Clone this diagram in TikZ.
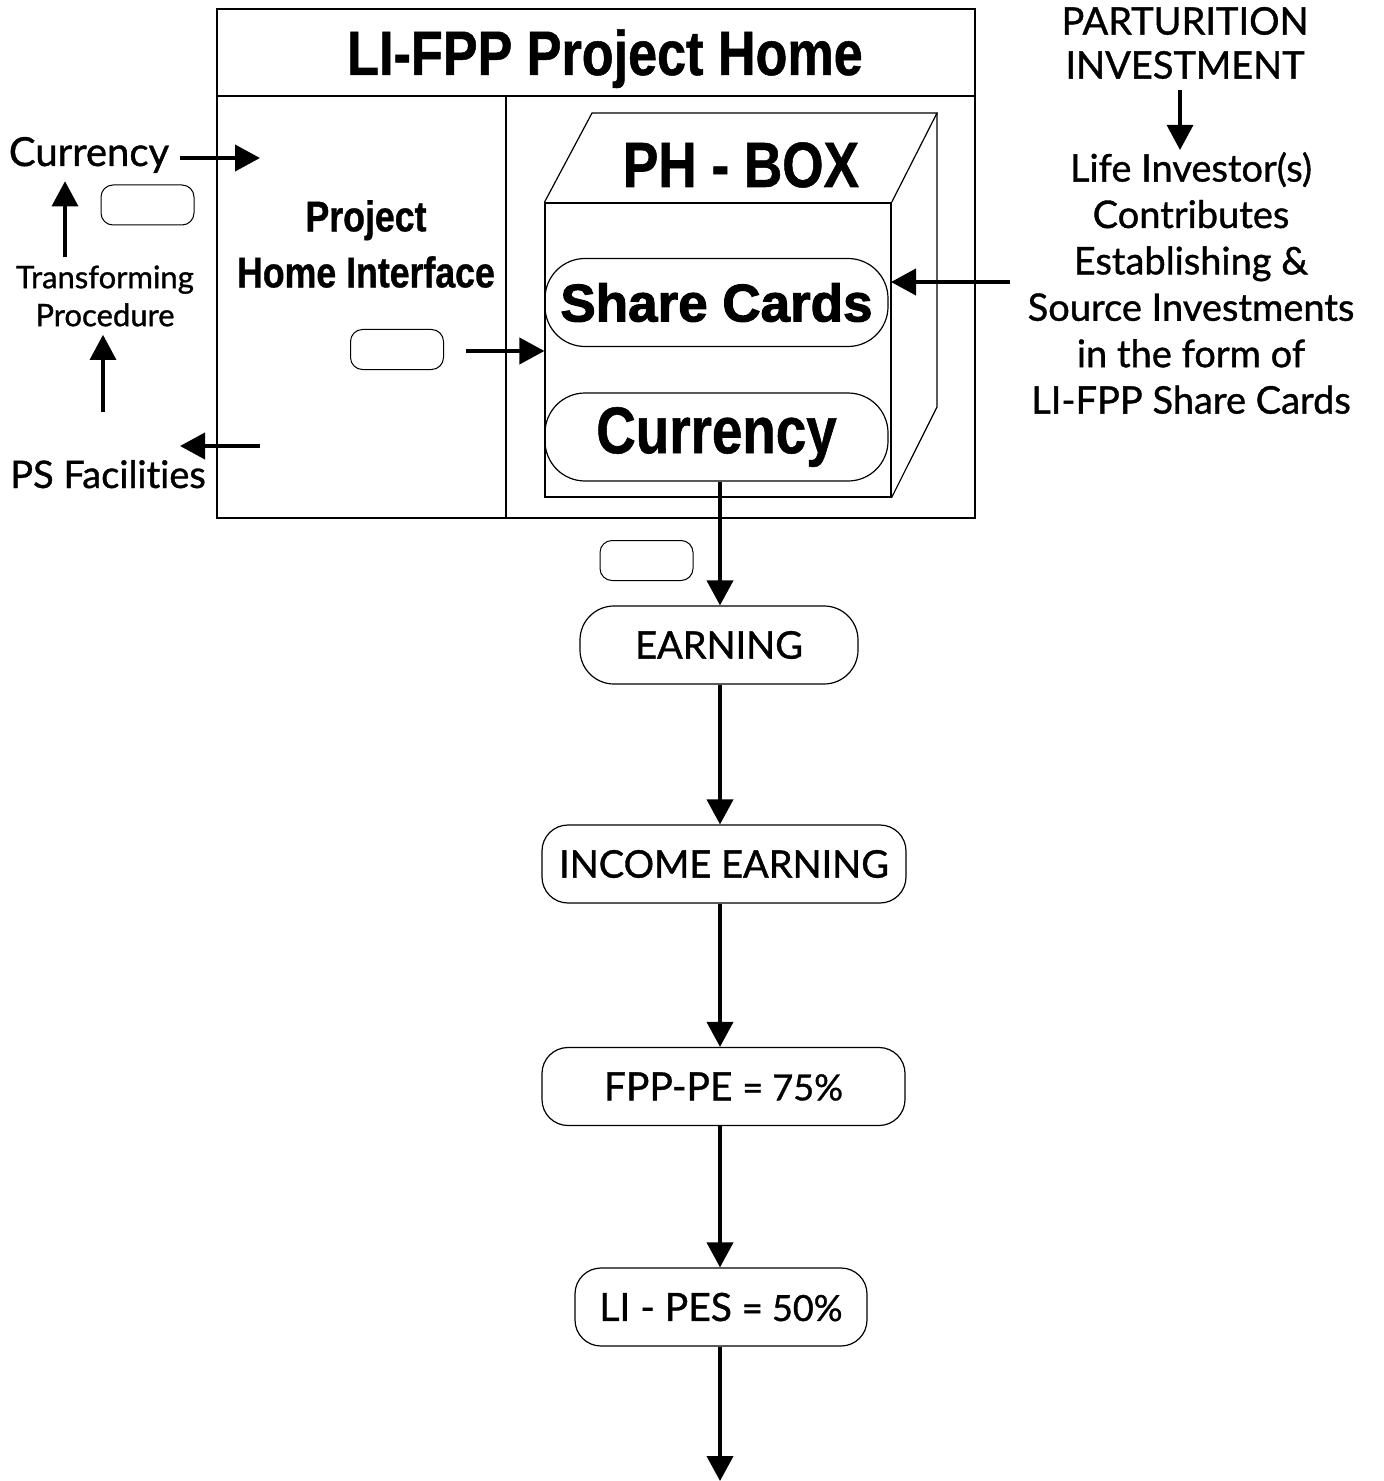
\documentclass[tikz,border=0pt]{standalone}
\usepackage{fontspec}
\setmainfont{Lato}[FakeBold=1.0, Ligatures=NoCommon]
\newfontfamily\condfont{Liberation Sans Bold}[FakeStretch=0.83, FakeBold=0.8]
\newfontfamily\heavyfont{Liberation Sans Bold}[FakeBold=2]
\usetikzlibrary{arrows.meta}
\begin{document}
\begin{tikzpicture}[x=0.5pt,y=-0.5pt,
  frame/.style={line width=0.7pt},
  txt/.style={inner sep=0pt, align=center},
  flowbox/.style={draw, line width=0.6pt, rounded corners=13pt, inner sep=0pt, minimum height=39pt, font=\fontsize{19}{24}\selectfont},
  cardbox/.style={draw, line width=0.6pt, rounded corners=20pt, inner sep=0pt, minimum width=171.5pt, minimum height=44pt},
  smallbox/.style={draw, line width=0.5pt, rounded corners=6pt, inner sep=0pt, minimum width=46.5pt, minimum height=20pt},
  arr/.style={line width=2pt, -{Triangle[width=13pt,length=12.5pt]}},
  sarr/.style={line width=1.6pt, -{Triangle[width=13pt,length=12.5pt]}}
]
\useasboundingbox (0,0) rectangle (1383,1481);
\fill[white] (0,0) rectangle (1383,1481);

% main frame
\draw[frame] (217,9) rectangle (975,518);
\draw[frame] (217,96) -- (975,96);
\draw[frame] (506,96) -- (506,518);
\node[txt, anchor=base, font=\condfont\fontsize{31.4}{36}\selectfont] (title) at (605,75) {LI-FPP Project Home};

% cube
\node[draw, line width=0.6pt, minimum width=173pt, minimum height=147pt, inner sep=0pt] (front) at (718,350) {};
\draw[line width=0.6pt] (front.north west) -- (592,113) -- (937,113) -- (front.north east);
\draw[line width=0.6pt] (937,113) -- (937,407) -- (front.south east);
\node[txt, anchor=base, font=\condfont\fontsize{32}{36}\selectfont] (phbox) at (741,187) {PH - BOX};
\node[cardbox, font=\heavyfont\fontsize{26.5}{30}\selectfont] (share) at (716.5,302.5) {Share Cards};
\node[cardbox, font=\condfont\fontsize{33}{38}\selectfont] (cur) at (716.5,437) {Currency};

% project home interface
\node[txt, font=\condfont\fontsize{21.5}{28}\selectfont] (phi) at (366,244) {Project\\Home Interface};
\node[smallbox] (sb2) at (397,349.5) {};
\coordinate (sb2r) at (466,351);
\draw[arr] (sb2r) -- (sb2r -| front.west);

% left side
\node[txt, anchor=base, font=\fontsize{20}{24}\selectfont] (lcur) at (89,166) {Currency};
\node[smallbox] (sb1) at (147.5,205) {};
\node[txt, font=\fontsize{15.5}{19}\selectfont] (trans) at (105,296) {Transforming\\Procedure};
\node[txt, anchor=base, font=\fontsize{19}{24}\selectfont] (psf) at (108,488) {PS Facilities};
\coordinate (c1) at (260,158);
\draw[arr] (180,158) -- (c1);
\draw[sarr] ([xshift=-20pt,yshift=4pt]trans.north) -- ([xshift=-12pt,yshift=-4pt]lcur.south);
\draw[sarr] ([xshift=-2.5pt,yshift=24pt]psf.north) -- ([xshift=-1pt,yshift=-4pt]trans.south);
\coordinate (c2) at (260,446);
\draw[arr] (c2) -- (180,446);

% right side
\node[txt, font=\fontsize{19}{22}\selectfont] (part) at (1185,43) {PARTURITION\\INVESTMENT};
\node[txt, font=\fontsize{19}{23.2}\selectfont] (life) at (1191,283) {Life Investor(s)\\ Contributes\\Establishing \&\\Source Investments\\in the form of\\LI-FPP Share Cards};
\draw[sarr] (1180,90) -- (1180,150);
\coordinate (rin) at (1010,282);
\draw[arr] (rin) -- (891,282);

% flow
\coordinate (ax) at (720,0);
\node[smallbox] (sb3) at (646.5,560.5) {};
\node[flowbox, minimum width=139pt, rounded corners=17pt] (earn) at (719,645) {EARNING};
\node[flowbox, minimum width=182pt] (inc) at (724,864) {INCOME EARNING};
\node[flowbox, minimum width=181.5pt, font=\fontsize{19.5}{24}\selectfont] (fpp) at (723.5,1086.5) {FPP-PE {\fontsize{18}{24}\selectfont= 75\%}};
\node[flowbox, minimum width=146pt, font=\fontsize{19.5}{24}\selectfont] (lipes) at (721,1307) {LI - PES {\fontsize{18}{24}\selectfont= 50\%}};
\coordinate (endpt) at (720,1481);
\draw[arr] (cur.south -| ax) -- (earn.north -| ax);
\draw[arr] (earn.south -| ax) -- (inc.north -| ax);
\draw[arr] (inc.south -| ax) -- (fpp.north -| ax);
\draw[arr] (fpp.south -| ax) -- (lipes.north -| ax);
\draw[arr] (lipes.south -| ax) -- (endpt);
\end{tikzpicture}
\end{document}
